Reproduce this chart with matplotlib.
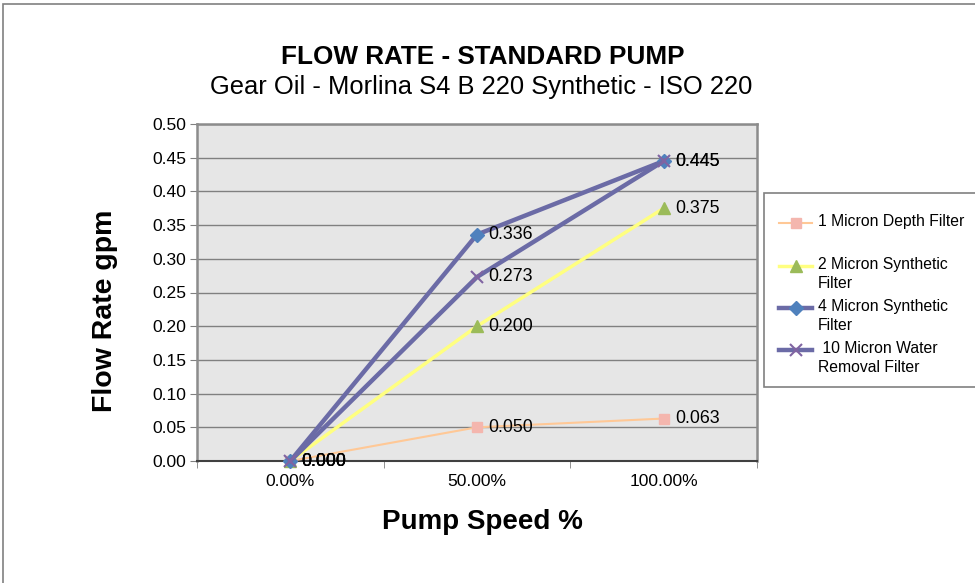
import matplotlib
matplotlib.use("Agg")
import matplotlib.pyplot as plt
from matplotlib.patches import Rectangle
from matplotlib.lines import Line2D
import numpy as np

plt.rcParams['font.family'] = ['Liberation Sans', 'DejaVu Sans']

categories = ["0.00%", "50.00%", "100.00%"]
series_names = ["1 Micron Depth Filter", "2 Micron Synthetic\nFilter",
                "4 Micron Synthetic\nFilter", " 10 Micron Water\nRemoval Filter"]
micron1 = [0.000, 0.050, 0.063]
micron2 = [0.000, 0.200, 0.375]
micron4 = [0.000, 0.336, 0.445]
micron10 = [0.000, 0.273, 0.445]
yticks = [0.00, 0.05, 0.10, 0.15, 0.20, 0.25, 0.30, 0.35, 0.40, 0.45, 0.50]

styles = [
    dict(color="#FFC896", lw=1.5, marker="s", mfc="#F4B6AE", mec="#F4B6AE", ms=7),
    dict(color="#FFFF80", lw=2.5, marker="^", mfc="#9BBB59", mec="#9BBB59", ms=9),
    dict(color="#6B6BA6", lw=3.2, marker="D", mfc="#4F81BD", mec="#4F81BD", ms=7),
    dict(color="#6B6BA6", lw=3.2, marker="x", mfc="#8064A2", mec="#8064A2", ms=9, mew=1.5),
]
data = [micron1, micron2, micron4, micron10]

fig = plt.figure(figsize=(9.75, 5.83), dpi=100)
W, H = 975, 583
# outer border
fig.add_artist(Rectangle((3 / W, -0.01), 1.02, (583 - 4) / H + 0.01, transform=fig.transFigure,
                         fill=False, edgecolor="#808080", lw=1.2))

ax = fig.add_axes([197 / W, (583 - 461) / H, (757 - 197) / W, (461 - 124) / H])
ax.set_facecolor("#E6E6E6")
x = np.arange(len(categories))
for vals, st, name in zip(data, styles, series_names):
    ax.plot(x, vals, label=name, zorder=3, clip_on=False, **st)
    for xi, v in zip(x, vals):
        ax.annotate(f"{v:.3f}", (xi, v), xytext=(8, 0), textcoords="offset points",
                    va="center", ha="left", fontsize=12.8, color="black", zorder=4)

ax.set_xlim(-0.5, len(categories) - 0.5)
ax.set_ylim(0, 0.5)
ax.set_yticks(yticks)
ax.set_yticklabels([f"{t:.2f}" for t in yticks], fontsize=12.6)
ax.set_xticks(x)
ax.set_xticklabels(categories, fontsize=12.6)
ax.tick_params(axis="x", length=0, pad=9)
ax.set_xticks(np.arange(-0.5, len(categories), 1.0), minor=True)
ax.tick_params(axis="x", which="minor", length=5, color="#808080", direction="out")
ax.tick_params(axis="y", length=5, color="#808080", direction="out", pad=3)
ax.grid(axis="y", color="#808080", lw=1.0, zorder=0)
ax.set_axisbelow(True)
for s in ["top", "right", "left"]:
    ax.spines[s].set_color("#8C8C8C")
    ax.spines[s].set_linewidth(1.8)
ax.spines["bottom"].set_color("#404040")
ax.spines["bottom"].set_linewidth(1.5)

fig.text(483 / W, 1 - 57 / H, "FLOW RATE - STANDARD PUMP", ha="center", va="center",
         fontsize=18.8, fontweight="bold")
fig.text(481 / W, 1 - 87 / H, "Gear Oil - Morlina S4 B 220 Synthetic - ISO 220", ha="center",
         va="center", fontsize=18.4)
fig.text(105 / W, 1 - 311 / H, "Flow Rate gpm", ha="center", va="center", rotation=90,
         fontsize=20.5, fontweight="bold")
fig.text(482 / W, 1 - 522 / H, "Pump Speed %", ha="center", va="center",
         fontsize=20, fontweight="bold")

# legend box (drawn manually to match layout)
fig.add_artist(Rectangle((764 / W, 1 - 387 / H), (1000 - 764) / W, (387 - 193) / H,
                         transform=fig.transFigure, facecolor="white", edgecolor="#808080", lw=1.2))
legend_y = [223, 266, 308, 350]
for st, name, ly in zip(styles, series_names, legend_y):
    yy = 1 - ly / H
    fig.add_artist(Line2D([779 / W, 812 / W], [yy, yy], transform=fig.transFigure,
                          color=st["color"], lw=st["lw"]))
    mk = {k: v for k, v in st.items() if k in ("marker", "mfc", "mec", "ms", "mew")}
    fig.add_artist(Line2D([795.5 / W], [yy], transform=fig.transFigure, linestyle="none", **mk))
    fig.text(818 / W, 1 - (ly - 9) / H, name, ha="left", va="top", fontsize=11.3,
             linespacing=1.3)

fig.savefig("out.png", dpi=100)
